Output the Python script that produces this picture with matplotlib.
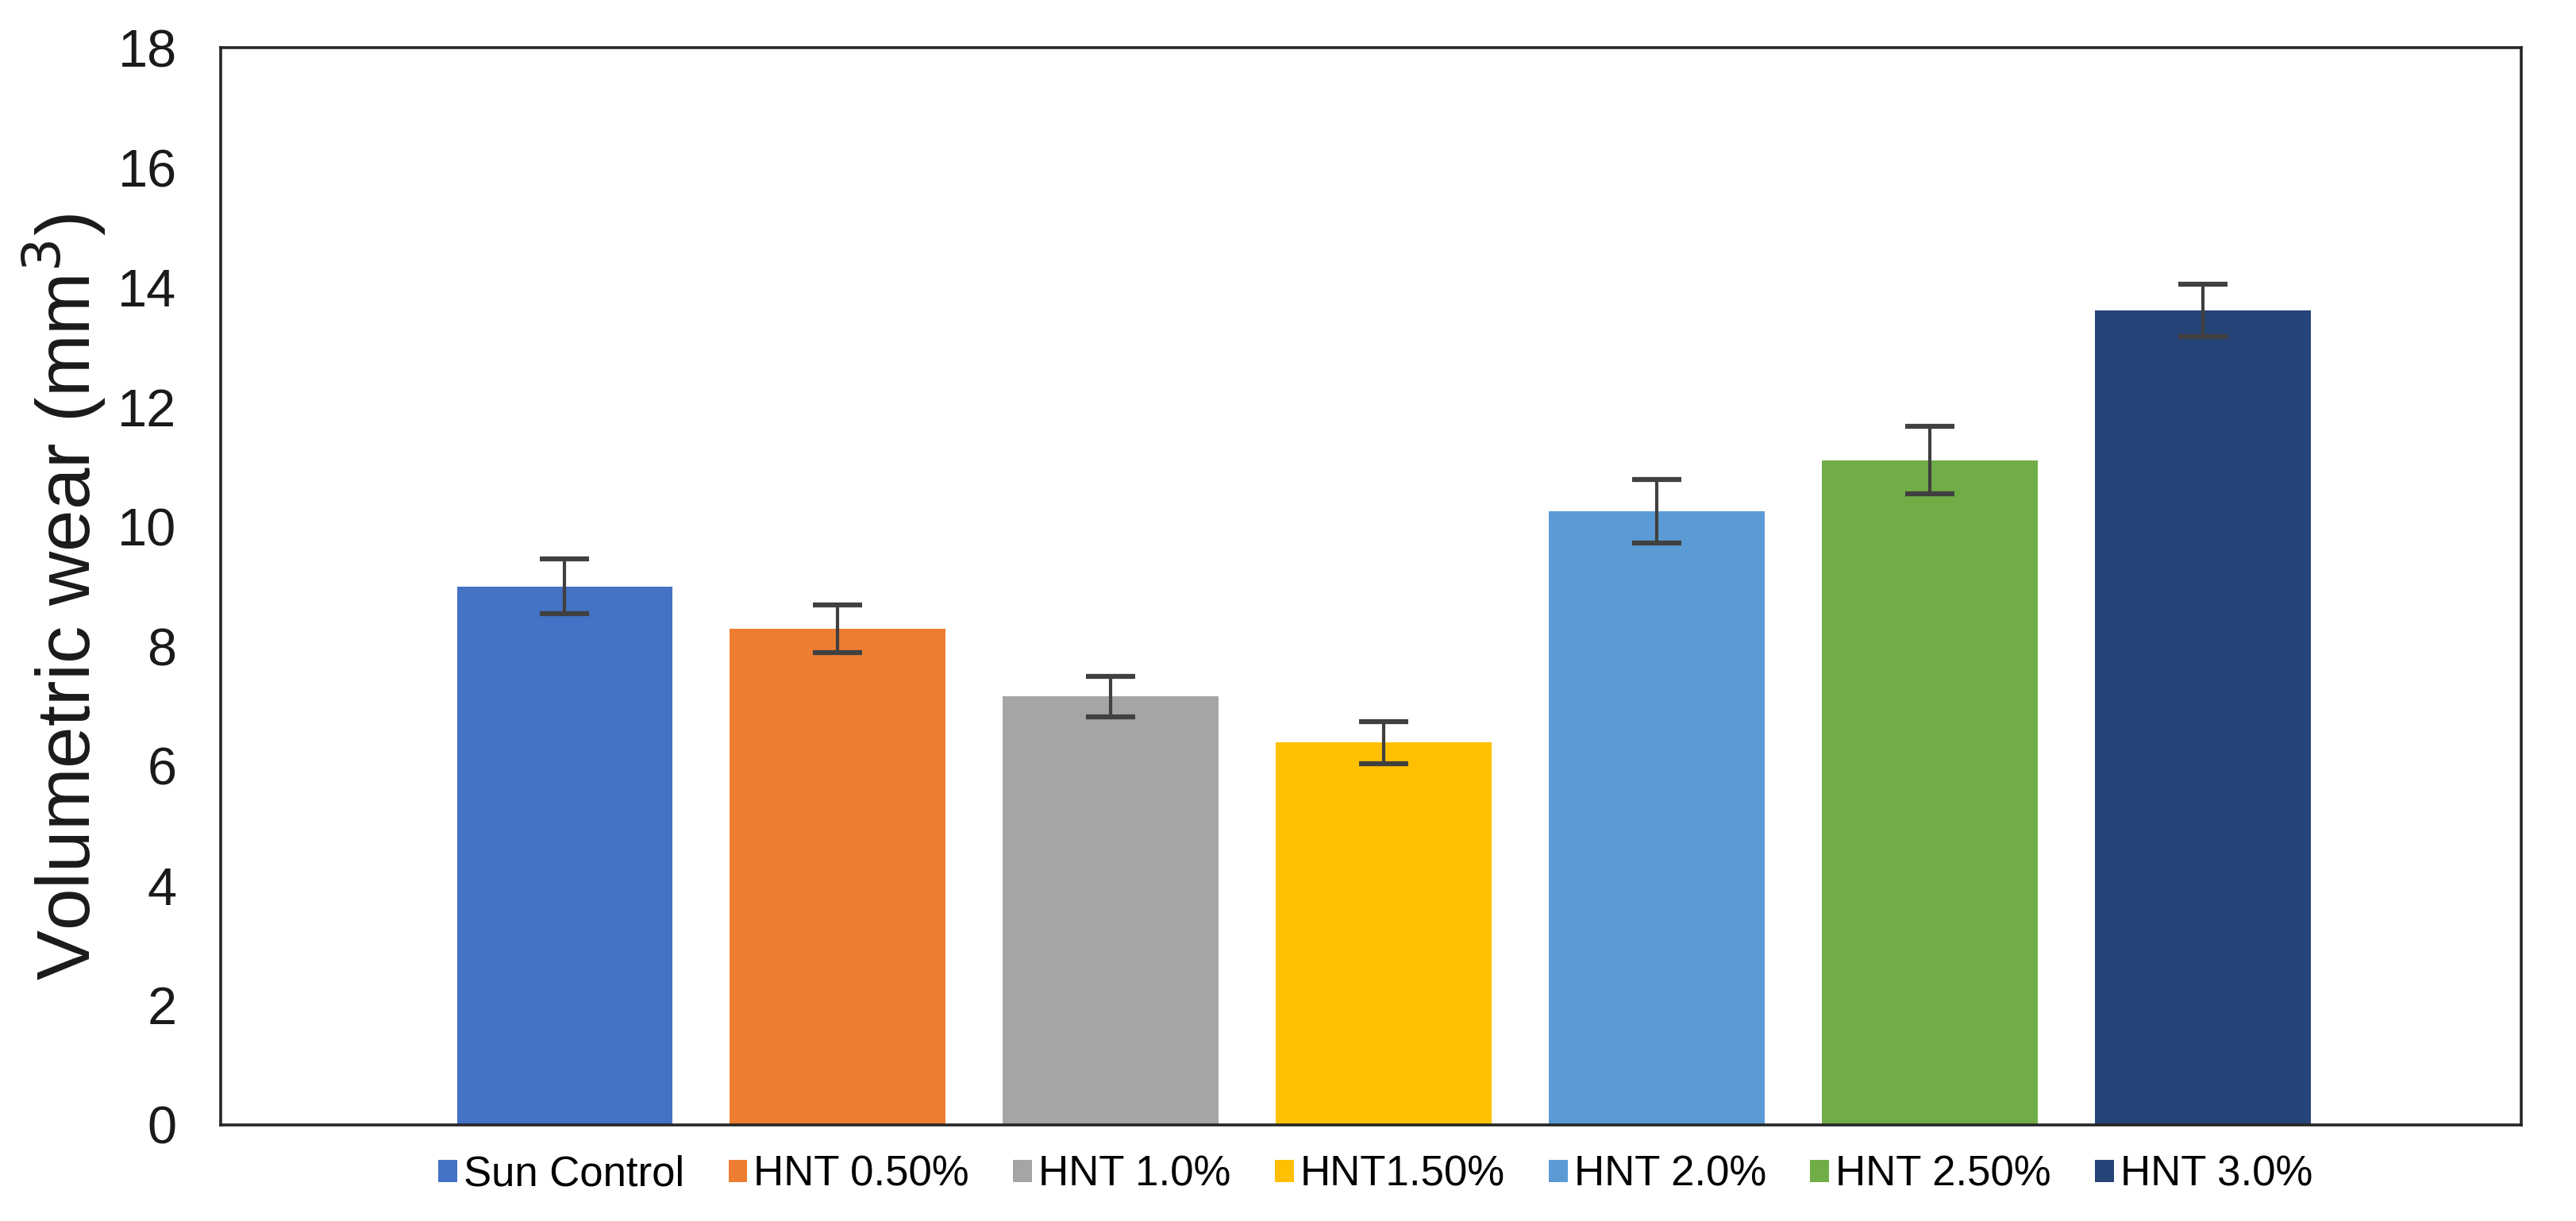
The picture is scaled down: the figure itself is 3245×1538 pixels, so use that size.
import matplotlib
matplotlib.use("Agg")
import matplotlib.pyplot as plt

categories = ["Sun Control", "HNT 0.50%", "HNT 1.0%", "HNT1.50%", "HNT 2.0%", "HNT 2.50%", "HNT 3.0%"]
values = [9.0, 8.29, 7.16, 6.39, 10.26, 11.11, 13.61]
errors = [0.46, 0.40, 0.34, 0.35, 0.53, 0.56, 0.44]
colors = ["#4472C4", "#ED7D31", "#A5A5A5", "#FFC000", "#5B9BD5", "#70AD47", "#264478"]
yticks = [0, 2, 4, 6, 8, 10, 12, 14, 16, 18]

plt.rcParams['font.family'] = ['Liberation Sans', 'DejaVu Sans']

fig = plt.figure(figsize=(32.45, 15.38), dpi=100)
ax = fig.add_axes([0.0857, 0.0787, 0.893, 0.882])

for i, (c, v, e, col) in enumerate(zip(categories, values, errors, colors)):
    ax.bar(i, v, width=0.79, color=col, label=c, zorder=2)
    ax.errorbar(i, v, yerr=e, fmt='none', ecolor='#404040', elinewidth=3,
                capsize=22, capthick=4.5, zorder=3)

ax.set_xlim(-1.26, 7.166)
ax.set_ylim(0, 18)
ax.set_yticks(yticks)
ax.set_yticklabels([str(t) for t in yticks])
ax.set_xticks([])
ax.tick_params(axis='y', length=0, pad=40, labelsize=48, colors='#1a1a1a')
for s in ax.spines.values():
    s.set_color('#262626')
    s.set_linewidth(2.6)

ax.set_ylabel("Volumetric wear (mm$^3$)", fontsize=68, color='#1a1a1a')
ax.yaxis.set_label_coords(-0.049, 0.49)

handles, labels = ax.get_legend_handles_labels()
fig.legend(handles, labels, loc='center', bbox_to_anchor=(0.534, 0.038), ncol=7,
           frameon=False, fontsize=38, handlelength=0.45, handleheight=0.45,
           handletextpad=0.15, columnspacing=1.05, borderaxespad=0)

fig.savefig("out.png", dpi=100, facecolor='white')
